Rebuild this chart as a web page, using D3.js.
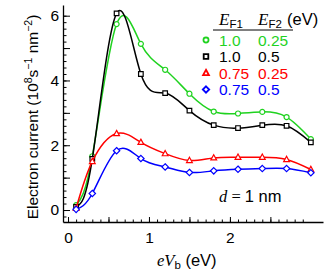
<!DOCTYPE html>
<html>
<head>
<meta charset="utf-8">
<script src="https://cdn.jsdelivr.net/npm/d3@7"></script>
<style>
  body { margin: 0; background: #fff; }
  svg { display: block; font-family: "Liberation Sans", Arial, sans-serif; }
</style>
</head>
<body>
<div id="chart"></div>
<script>
// bias energy eV_b (eV)
const xVals = [0.1, 0.3, 0.6, 0.9, 1.2, 1.5, 1.8, 2.1, 2.4, 2.7, 3.0];

// electron current (10^8 s^-1 nm^-2)
const green = [0.15, 1.66, 5.74, 5.13, 4.33, 3.59, 3.04, 2.98, 3.03, 2.87, 2.19];
const black = [0.10, 1.58, 6.07, 4.20, 3.61, 3.07, 2.62, 2.53, 2.62, 2.60, 2.09];
const red   = [0.05, 1.50, 2.36, 2.09, 1.74, 1.53, 1.61, 1.63, 1.63, 1.56, 1.25];
const blue  = [0.02, 0.51, 1.83, 1.59, 1.33, 1.16, 1.21, 1.26, 1.28, 1.28, 1.15];

const ef1 = ["1.0", "1.0", "0.75", "0.75"];
const ef2 = ["0.25", "0.5", "0.25", "0.5"];

const series = [
  {vals: green, color: "#1fd21f", shape: "circle"},
  {vals: black, color: "#000000", shape: "square"},
  {vals: red,   color: "#ff0000", shape: "triangle"},
  {vals: blue,  color: "#0000ff", shape: "diamond"}
];

const W = 332, H = 278;
const x = d3.scaleLinear().domain([-0.062, 3.15]).range([63, 323]);
const y = d3.scaleLinear().domain([-0.37, 6.33]).range([222, 5]);

const svg = d3.select("#chart").append("svg")
  .attr("width", W).attr("height", H);

// axes
const xMajor = d3.range(0, 2.51, 0.5);
const xMinor = d3.range(0, 2.95, 0.1);
const yMajor = d3.range(0, 6.01, 1);
const yMinor = d3.range(-0.2, 6.01, 0.2);

svg.append("g")
  .attr("transform", "translate(0,222)")
  .call(d3.axisBottom(x).tickValues(xMinor).tickSize(-2.5).tickSizeOuter(0).tickFormat(""))
  .call(g => g.select(".domain").remove());
svg.append("g")
  .attr("transform", "translate(0,222)")
  .call(d3.axisBottom(x).tickValues(xMajor).tickSize(-5).tickSizeOuter(0).tickPadding(10)
    .tickFormat(d => Math.abs(d - Math.round(d)) < 1e-6 ? d3.format("d")(d) : ""))
  .call(g => g.select(".domain").attr("stroke-width", 1.3))
  .call(g => g.selectAll("text").attr("font-size", 15.5).attr("fill", "#000"));

svg.append("g")
  .attr("transform", "translate(63,0)")
  .call(d3.axisLeft(y).tickValues(yMinor).tickSize(-3.5).tickSizeOuter(0).tickFormat(""))
  .call(g => g.select(".domain").remove());
svg.append("g")
  .attr("transform", "translate(63,0)")
  .call(d3.axisLeft(y).tickValues(yMajor).tickSize(-7).tickSizeOuter(0).tickPadding(4)
    .tickFormat(d => d % 2 === 0 ? d : ""))
  .call(g => g.select(".domain").attr("stroke-width", 1.3))
  .call(g => g.selectAll("text").attr("font-size", 15.5).attr("fill", "#000"));

svg.selectAll(".tick line").attr("stroke-width", 1);

// curves
const line = d3.line()
  .x((d, i) => x(xVals[i]))
  .y(d => y(d))
  .curve(d3.curveNatural);

function markerPath(shape) {
  if (shape === "circle") return d3.symbol(d3.symbolCircle, 20)();
  if (shape === "square") return "M-2.3,-2.3H2.3V2.3H-2.3Z";
  if (shape === "triangle") return "M0,-3.2L2.9,2.1H-2.9Z";
  return "M0,-3.2L3.2,0L0,3.2L-3.2,0Z";
}

series.forEach(s => {
  svg.append("path")
    .attr("d", line(s.vals))
    .attr("fill", "none")
    .attr("stroke", s.color)
    .attr("stroke-width", 1.5);
  svg.append("g").selectAll("path")
    .data(s.vals)
    .join("path")
    .attr("transform", (d, i) => `translate(${x(xVals[i])},${y(d)})`)
    .attr("d", markerPath(s.shape))
    .attr("fill", "white")
    .attr("stroke", s.color)
    .attr("stroke-width", 1.2);
});

// legend
const serif = "'Liberation Serif', 'Times New Roman', serif";
const head = svg.append("g");
function ef(xPos, sub) {
  const t = head.append("text").attr("x", xPos).attr("y", 25).attr("font-size", 17);
  t.append("tspan").attr("font-family", serif).attr("font-style", "italic").text("E");
  t.append("tspan").attr("font-size", 11.5).attr("dy", 3).text(sub);
}
ef(219, "F1");
ef(258, "F2");
head.append("text").attr("x", 287).attr("y", 25).attr("font-size", 16.5).text("(eV)");
head.append("line").attr("x1", 213).attr("x2", 293).attr("y1", 30).attr("y2", 30)
  .attr("stroke", "#000").attr("stroke-width", 1);

series.forEach((s, i) => {
  const yy = 40 + i * 16.5;
  svg.append("path")
    .attr("transform", `translate(206,${yy})`)
    .attr("d", markerPath(s.shape))
    .attr("fill", "white")
    .attr("stroke", s.color)
    .attr("stroke-width", 1.8);
  svg.append("text").attr("x", 219).attr("y", yy + 5.5).attr("font-size", 15.5)
    .attr("fill", s.color).text(ef1[i]);
  svg.append("text").attr("x", 258).attr("y", yy + 5.5).attr("font-size", 15.5)
    .attr("fill", s.color).text(ef2[i]);
});

// annotation d = 1 nm
const dl = svg.append("text").attr("x", 219).attr("y", 202).attr("font-size", 16.5);
dl.append("tspan").attr("font-family", serif).attr("font-style", "italic").text("d");
dl.append("tspan").attr("font-family", serif).text(" = ");
dl.append("tspan").text("1 nm");

// x title
const xt = svg.append("text").attr("x", 157).attr("y", 266).attr("font-size", 16.5);
xt.append("tspan").attr("font-family", serif).attr("font-style", "italic").text("eV");
xt.append("tspan").attr("font-size", 11.5).attr("dy", 3).text("b");
xt.append("tspan").attr("dy", -3).text(" (eV)");

// y title
const yt = svg.append("text")
  .attr("transform", "translate(38,117) rotate(-90)")
  .attr("text-anchor", "middle")
  .attr("font-size", 15.5);
yt.append("tspan").text("Electron current (10");
yt.append("tspan").attr("font-size", 10.5).attr("dy", -6).text("8");
yt.append("tspan").attr("dy", 6).text("s");
yt.append("tspan").attr("font-size", 10.5).attr("dy", -6).text("\u22121");
yt.append("tspan").attr("dy", 6).text(" nm");
yt.append("tspan").attr("font-size", 10.5).attr("dy", -6).text("\u22122");
yt.append("tspan").attr("dy", 6).text(")");
</script>
</body>
</html>
